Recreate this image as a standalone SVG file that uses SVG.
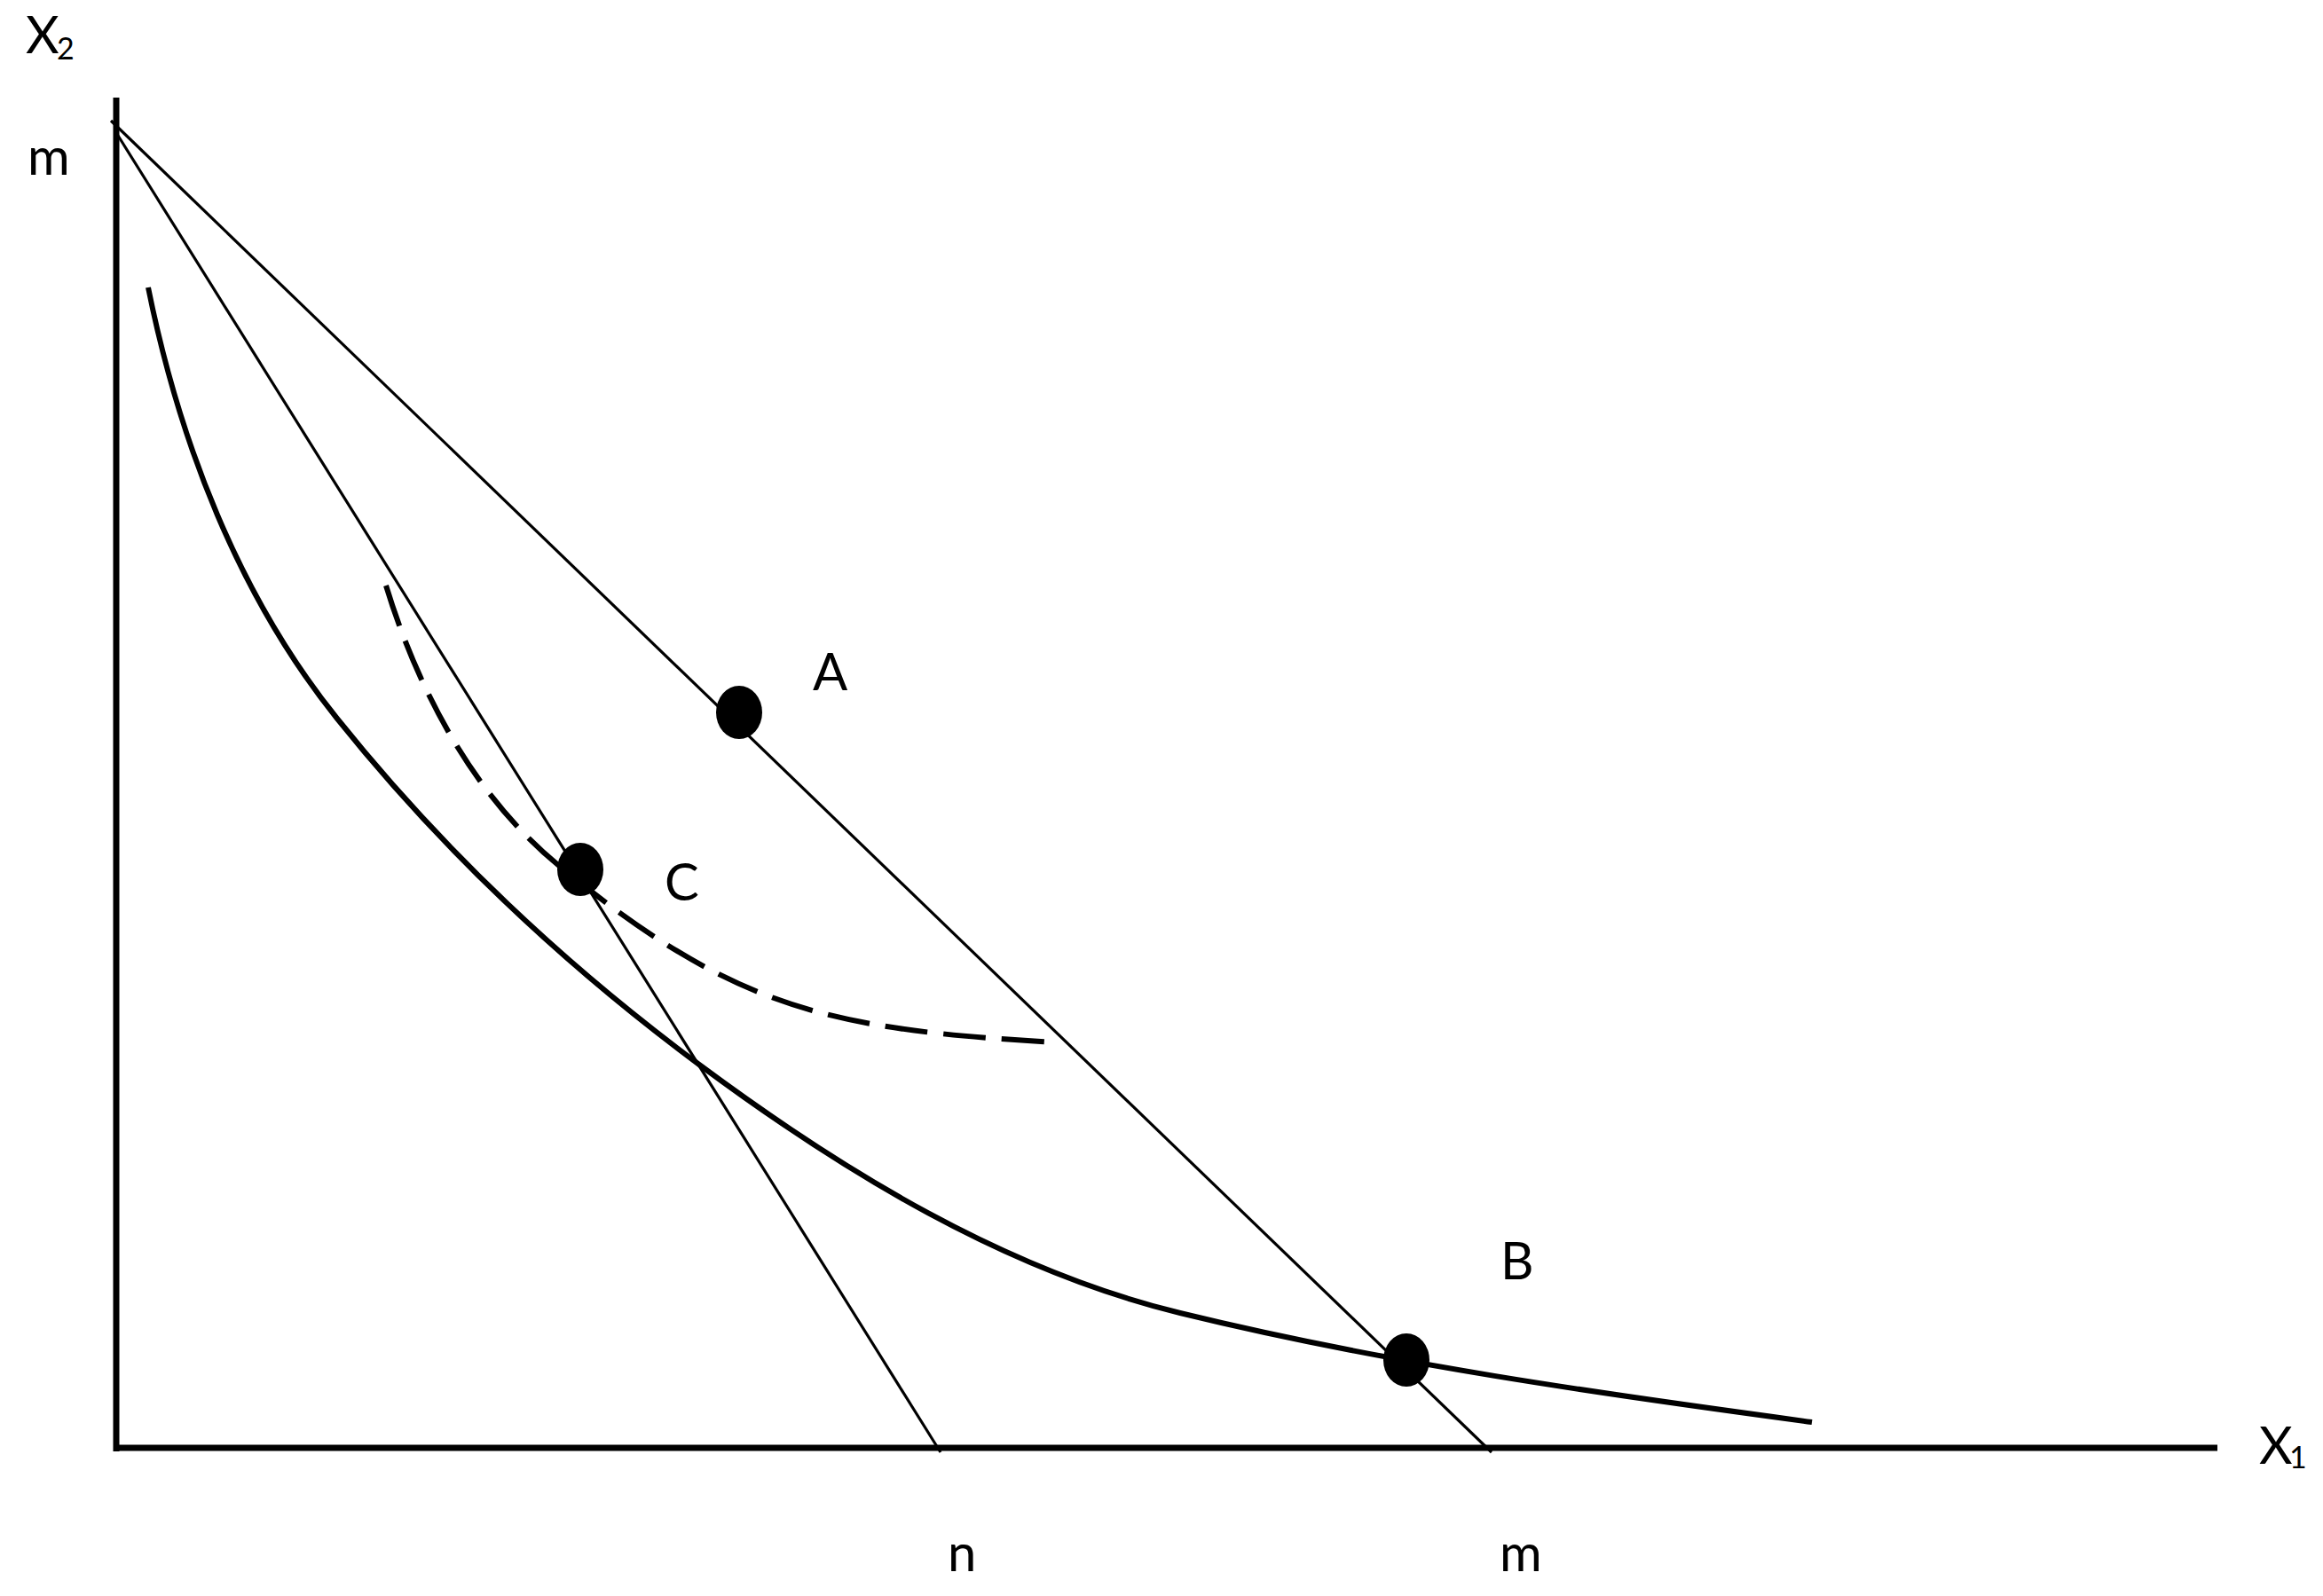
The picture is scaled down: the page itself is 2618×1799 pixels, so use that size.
<svg xmlns="http://www.w3.org/2000/svg" width="2618" height="1799" viewBox="0 0 2618 1799">
<style>
  .lbl { font-family: Lato, "Liberation Sans", sans-serif; font-size: 58px; fill: #000; }
  .sub { font-family: Lato, "Liberation Sans", sans-serif; font-size: 34px; fill: #000; }
  .axis { stroke: #000; stroke-width: 7; fill: none; }
  .budget { stroke: #000; stroke-width: 3.2; fill: none; }
  .ic { stroke: #000; stroke-width: 6; fill: none; stroke-linejoin: round; }
  .icd { stroke: #000; stroke-width: 6; fill: none; stroke-dasharray: 48 18; }
  .dot { fill: #000; }
</style>
<rect width="2618" height="1799" fill="#fff"/>
<g id="axes">
  <line class="axis" x1="131" y1="110" x2="131" y2="1636"/>
  <line class="axis" x1="128" y1="1632" x2="2499" y2="1632"/>
  <text class="lbl" x="29" y="60">X</text><text class="sub" x="64" y="67">2</text>
  <text class="lbl" x="2546" y="1650">X</text><text class="sub" x="2580" y="1655">1</text>
  <text class="lbl" x="31" y="197">m</text>
  <text class="lbl" x="1068" y="1771">n</text>
  <text class="lbl" x="1690" y="1771">m</text>
</g>
<g id="connectors">
  <line class="budget" x1="125" y1="136" x2="1681" y2="1637"/>
  <line class="budget" x1="130" y1="148" x2="1060" y2="1637"/>
  <path class="ic" d="M167,324 C202,498 269,672 380,810 C497.5,956.8 637,1088 788,1200 C951,1321 1133,1432 1330,1480 C1563,1537 1804,1571 2042,1603"/>
  <path class="icd" d="M435,660 C471,778 534,897 629,975 C830,1140 938,1160 1188,1175"/>
</g>
<g id="node-A">
  <ellipse class="dot" cx="833" cy="803" rx="26" ry="30"/>
  <text class="lbl" x="916" y="778">A</text>
</g>
<g id="node-C">
  <ellipse class="dot" cx="654" cy="980" rx="26" ry="30"/>
  <text class="lbl" x="749" y="1015">C</text>
</g>
<g id="node-B">
  <ellipse class="dot" cx="1585" cy="1533" rx="26" ry="30"/>
  <text class="lbl" x="1691" y="1442">B</text>
</g>
</svg>
